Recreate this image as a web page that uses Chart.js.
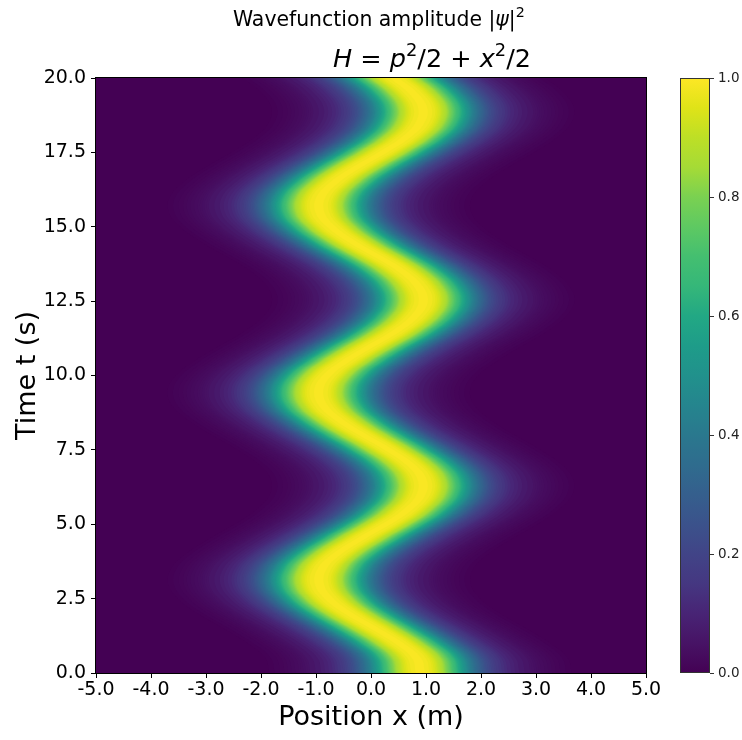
<!DOCTYPE html>
<html>
<head>
<meta charset="utf-8">
<script src="https://cdn.jsdelivr.net/npm/chart.js@4"></script>
<style>
  html, body { margin: 0; padding: 0; background: #fff; }
</style>
</head>
<body>
<canvas id="chart" width="742" height="740"></canvas>
<script>
// sample times (s) and the packet centre x (m) at each of them
const timePoints = [0, 0.5, 1, 1.5, 2, 2.5, 3, 3.5, 4, 4.5, 5, 5.5, 6, 6.5, 7, 7.5, 8, 8.5, 9, 9.5,
                    10, 10.5, 11, 11.5, 12, 12.5, 13, 13.5, 14, 14.5, 15, 15.5, 16, 16.5, 17, 17.5, 18, 18.5, 19, 19.5, 20];
const packetCenter = [0.90, 0.83, 0.51, 0.07, -0.40, -0.76, -0.94, -0.89, -0.62, -0.20, 0.27, 0.67, 0.91, 0.93, 0.72, 0.33, -0.14, -0.57, -0.87, -0.95,
                      -0.80, -0.45, 0.00, 0.46, 0.80, 0.95, 0.86, 0.57, 0.13, -0.34, -0.72, -0.93, -0.91, -0.66, -0.26, 0.21, 0.63, 0.89, 0.94, 0.76, 0.42];

const profileOffset = [0, 0.2, 0.3, 0.4, 0.5, 0.6, 0.7, 0.8, 0.9, 1.0, 1.2, 1.4, 1.6, 1.8, 2.0, 2.2, 2.5, 2.8];
const profileValue  = [1.0, 0.97, 0.93, 0.87, 0.79, 0.70, 0.61, 0.52, 0.43, 0.36, 0.24, 0.16, 0.11, 0.075, 0.05, 0.03, 0.012, 0.0];

// tick labels
const xTickValues = [-5, -4, -3, -2, -1, 0, 1, 2, 3, 4, 5];
const yTickValues = [0, 2.5, 5, 7.5, 10, 12.5, 15, 17.5, 20];
const cbTickValues = [0, 0.2, 0.4, 0.6, 0.8, 1.0];

const VIRIDIS = ['#440154', '#471365', '#482475', '#453781', '#414487', '#3b528b', '#355f8d', '#2f6c8e',
                 '#2a788e', '#25858e', '#21918c', '#1e9c89', '#22a884', '#35b779', '#44bf70', '#5ec962',
                 '#7ad151', '#a5db36', '#bddf26', '#dfe318', '#fde725'];

function hexRgb(h) {
    return [parseInt(h.slice(1, 3), 16), parseInt(h.slice(3, 5), 16), parseInt(h.slice(5, 7), 16)];
}

function viridis(v) {
    const p = Math.min(1, Math.max(0, v)) * (VIRIDIS.length - 1);
    const i = Math.min(VIRIDIS.length - 2, Math.floor(p));
    const f = p - i;
    const a = hexRgb(VIRIDIS[i]), b = hexRgb(VIRIDIS[i + 1]);
    const c = a.map((x, k) => Math.round(x + (b[k] - x) * f));
    return 'rgb(' + c.join(',') + ')';
}

// distance from centre where the profile drops to a given level
function halfWidth(level) {
    for (let i = 0; i < profileOffset.length - 1; i++) {
        const v0 = profileValue[i], v1 = profileValue[i + 1];
        if (level <= v0 && level >= v1) {
            return profileOffset[i] + (v0 - level) / (v0 - v1) * (profileOffset[i + 1] - profileOffset[i]);
        }
    }
    return 0;
}

// colour levels, one filled band per level (finer in the faint tail)
const levels = [];
for (let v = 0.002; v < 0.05; v += 0.004) levels.push(+v.toFixed(4));
for (let v = 0.05; v < 0.999; v += 0.0125) levels.push(+v.toFixed(4));

// centre path, pushed a little past both ends so the bands run off the plot
const last = timePoints.length - 1;
const path = [{ t: 2 * timePoints[0] - timePoints[1], c: 2 * packetCenter[0] - packetCenter[1] }]
    .concat(timePoints.map((t, i) => ({ t: t, c: packetCenter[i] })))
    .concat([{ t: 2 * timePoints[last] - timePoints[last - 1], c: 2 * packetCenter[last] - packetCenter[last - 1] }]);

const datasets = [];
for (let k = levels.length - 1; k >= 0; k--) {
    const h = halfWidth(levels[k]);
    const upper = k + 1 < levels.length ? levels[k + 1] : 1.0;
    const leftEdge = path.map(p => ({ x: p.c - h, y: p.t }));
    const rightEdge = path.slice().reverse().map(p => ({ x: p.c + h, y: p.t }));
    datasets.push({
        data: leftEdge.concat(rightEdge),
        xAxisID: 'x',
        yAxisID: 'y',
        fill: 'shape',
        backgroundColor: viridis((levels[k] + upper) / 2),
        borderColor: 'rgba(0,0,0,0)',
        borderWidth: 0,
        pointRadius: 0,
        tension: 0.4
    });
}

const plotFrame = {
    id: 'plotFrame',
    beforeDatasetsDraw(chart) {
        const { ctx, chartArea: a } = chart;
        ctx.save();
        ctx.fillStyle = viridis(0);
        ctx.fillRect(a.left, a.top, a.right - a.left, a.bottom - a.top);
        ctx.restore();
    },
    afterDatasetsDraw(chart) {
        const { ctx, chartArea: a } = chart;
        ctx.save();
        ctx.strokeStyle = '#000';
        ctx.lineWidth = 1;
        ctx.strokeRect(a.left - 0.5, a.top - 0.5, a.right - a.left + 1, a.bottom - a.top + 1);
        ctx.restore();
    }
};

const colorbar = {
    id: 'colorbar',
    afterDraw(chart) {
        const ctx = chart.ctx;
        const cb = chart.scales.cb;
        const y0 = cb.getPixelForValue(0), y1 = cb.getPixelForValue(1);
        const x0 = 680, w = 30;
        ctx.save();
        const g = ctx.createLinearGradient(0, y0, 0, y1);
        VIRIDIS.forEach((c, i) => g.addColorStop(i / (VIRIDIS.length - 1), c));
        ctx.fillStyle = g;
        ctx.fillRect(x0, y1, w, y0 - y1);
        ctx.strokeStyle = '#333';
        ctx.lineWidth = 1;
        ctx.strokeRect(x0 + 0.5, y1 + 0.5, w - 1, y0 - y1 - 1);
        ctx.fillStyle = '#222';
        ctx.font = '13.5px "DejaVu Sans"';
        ctx.textAlign = 'left';
        ctx.textBaseline = 'middle';
        cbTickValues.forEach(v => {
            const y = Math.round(cb.getPixelForValue(v)) + 0.5;
            ctx.beginPath();
            ctx.moveTo(x0 + w, y);
            ctx.lineTo(x0 + w + 4, y);
            ctx.stroke();
            ctx.fillText(v.toFixed(1), x0 + w + 8, y);
        });
        ctx.restore();
    }
};

// title: two lines, the second one is a formula
const titleLines = [
    { runs: [['Wavefunction amplitude ', 'n'], ['|', 'n'], ['ψ', 'i'], ['|', 'n'], ['2', 's']], left: 233, width: 292, baseline: 26 },
    { runs: [['H', 'i'], [' = ', 'n'], ['p', 'i'], ['2', 's'], ['/2', 'n'], [' + ', 'n'], ['x', 'i'], ['2', 's'], ['/2', 'n']], left: 333, width: 198, baseline: 67 }
];

function runFont(style, size) {
    if (style === 'i') return 'italic ' + size + 'px "DejaVu Sans"';
    if (style === 's') return (size * 0.7) + 'px "DejaVu Sans"';
    return size + 'px "DejaVu Sans"';
}

const twoLineTitle = {
    id: 'twoLineTitle',
    afterDraw(chart) {
        const ctx = chart.ctx;
        ctx.save();
        ctx.fillStyle = '#000';
        ctx.textBaseline = 'alphabetic';
        titleLines.forEach(line => {
            let w = 0;
            line.runs.forEach(r => { ctx.font = runFont(r[1], 20); w += ctx.measureText(r[0]).width; });
            const size = 20 * line.width / w;
            let x = line.left;
            line.runs.forEach(r => {
                ctx.font = runFont(r[1], size);
                const dy = r[1] === 's' ? -size * 0.42 : 0;
                ctx.fillText(r[0], x, line.baseline + dy);
                x += ctx.measureText(r[0]).width;
            });
        });
        ctx.restore();
    }
};

Chart.defaults.font.family = '"DejaVu Sans"';
Chart.defaults.color = '#000';

new Chart(document.getElementById('chart'), {
    type: 'line',
    data: { datasets: datasets },
    options: {
        responsive: false,
        animation: false,
        events: [],
        layout: { padding: { top: 78, left: 0, right: 0, bottom: 0 } },
        elements: { line: { capBezierPoints: false } },
        plugins: {
            legend: { display: false },
            tooltip: { enabled: false },
            title: { display: false }
        },
        scales: {
            x: {
                type: 'linear',
                min: -5,
                max: 5,
                afterBuildTicks: s => { s.ticks = xTickValues.map(v => ({ value: v })); },
                afterFit: s => { s.height = 67; },
                ticks: {
                    autoSkip: false,
                    maxRotation: 0,
                    padding: 1,
                    font: { size: 19 },
                    color: '#000',
                    callback: v => v.toFixed(1)
                },
                grid: { drawOnChartArea: false, drawTicks: true, tickLength: 5, color: '#000' },
                border: { display: false },
                title: { display: true, text: 'Position x (m)', font: { size: 27 }, color: '#000', padding: { top: 0, bottom: 6 } }
            },
            y: {
                type: 'linear',
                position: 'left',
                min: 0,
                max: 20,
                afterBuildTicks: s => { s.ticks = yTickValues.map(v => ({ value: v })); },
                afterFit: s => { s.width = 96; },
                ticks: {
                    autoSkip: false,
                    padding: 5,
                    font: { size: 19 },
                    color: '#000',
                    callback: v => v.toFixed(1)
                },
                grid: { drawOnChartArea: false, drawTicks: true, tickLength: 5, color: '#000' },
                border: { display: false },
                title: { display: true, text: 'Time t (s)', font: { size: 27 }, color: '#000', padding: { top: 12, bottom: 0 } }
            },
            cb: {
                type: 'linear',
                position: 'right',
                min: 0,
                max: 1,
                afterFit: s => { s.width = 96; },
                ticks: { display: false },
                grid: { display: false, drawTicks: false },
                border: { display: false }
            }
        }
    },
    plugins: [plotFrame, colorbar, twoLineTitle]
});
</script>
</body>
</html>
